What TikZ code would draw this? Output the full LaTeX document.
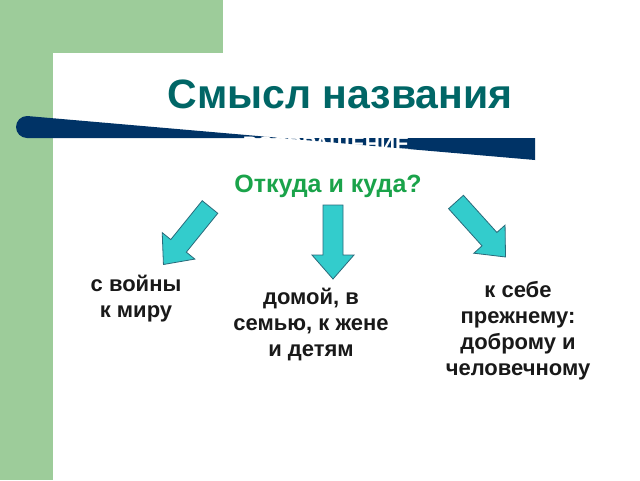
\documentclass[tikz,border=0pt]{standalone}
\usepackage{fontspec}
\setmainfont{Liberation Sans}
\definecolor{bggreen}{HTML}{9DCC9A}
\definecolor{bar}{HTML}{003366}
\definecolor{titlec}{HTML}{006666}
\definecolor{greent}{HTML}{1AA34A}
\definecolor{arrf}{HTML}{33CCCC}
\definecolor{arrd}{HTML}{2A6A7A}
\tikzset{body/.style={font=\bfseries\fontsize{22}{26}\selectfont,align=center,text=black!90},
 blk/.style={fill=arrf,draw=arrd,line width=0.8pt,line join=miter}}
\newcommand{\blockarrow}[3]{% x,y,angle
 \begin{scope}[shift={(#1,#2)},rotate=#3]
 \draw[blk] (0,-10)--(50,-10)--(50,-21)--(74,0)--(50,21)--(50,10)--(0,10)--cycle;
 \end{scope}}
\begin{document}
\begin{tikzpicture}[x=1pt,y=-1pt]
\useasboundingbox (0,0) rectangle (640,480);
\fill[bggreen] (0,0) rectangle (223,53);
\fill[bggreen] (0,0) rectangle (53,480);
\fill[white] (53,480) -- (53,73) arc[start angle=180,end angle=90,radius=20] -- (640,53) -- (640,480) -- cycle;
\fill[bar] (535,138) -- (27,138) arc[start angle=90,end angle=270,radius=11] -- (535,160) -- cycle;
\node[font=\bfseries\fontsize{41}{46}\selectfont,text=titlec] (title) at (340,94) {Смысл названия};
\node[font=\bfseries\fontsize{21}{24}\selectfont,text=white] (ret) at (326,146) {ВОЗВРАЩЕНИЕ};
\node[font=\bfseries\fontsize{25}{28}\selectfont,text=greent] (q) at (328,186) {Откуда и куда?};
\blockarrow{210}{207}{-129}
\blockarrow{333}{205}{-90}
\blockarrow{456}{202}{-48}
\node[body] (a) at (136,299) {с войны\\к миру};
\node[body] (b) at (311,324) {домой, в\\семью, к жене\\и детям};
\node[body] (c) at (518,331) {к себе\\прежнему:\\доброму и\\человечному};
\end{tikzpicture}
\end{document}
